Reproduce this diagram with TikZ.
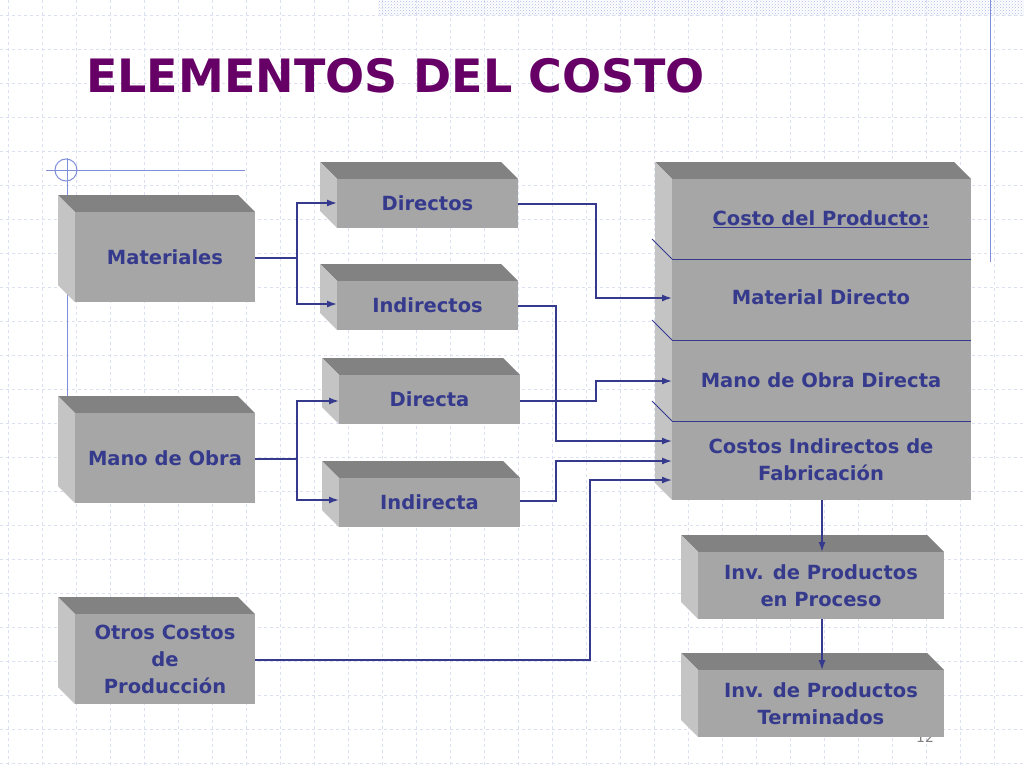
\documentclass[tikz,border=0pt]{standalone}
\usepackage{fontspec}
\setmainfont{DejaVu Sans}
\usetikzlibrary{arrows.meta,patterns}
\definecolor{navy}{HTML}{353A8C}
\definecolor{ttl}{HTML}{660066}
\definecolor{gridc}{HTML}{DCE1F2}
\definecolor{decor}{HTML}{7F8FDB}
\definecolor{frontc}{HTML}{A6A6A6}
\definecolor{topc}{HTML}{828282}
\definecolor{leftc}{HTML}{C4C4C4}
\newcommand{\cube}[7]{% name x0 y0 x1 y1 d text
  \fill[topc] (#2,#3) -- ({#4-#6},#3) -- (#4,{#3+#6}) -- ({#2+#6},{#3+#6}) -- cycle;
  \fill[leftc] (#2,#3) -- ({#2+#6},{#3+#6}) -- ({#2+#6},#5) -- (#2,{#5-#6}) -- cycle;
  \fill[frontc] ({#2+#6},{#3+#6}) rectangle (#4,#5);
  \node[lbl] (#1) at ({(#2+#6+#4)/2},{(#3+#6+#5)/2}) {#7};
  \coordinate (#1-nw) at ({#2+#6},{#3+#6});
}
\tikzset{lbl/.style={text=navy,font=\bfseries\fontsize{19.5}{27}\selectfont,align=center,inner sep=0pt},
 conn/.style={draw=navy,line width=1.4pt},
 arr/.style={conn,-{Latex[length=10pt,width=7pt]}}}
\begin{document}
\begin{tikzpicture}[x=1pt,y=-1pt]
\useasboundingbox (0,0) rectangle (1024,768);
\fill[white] (0,0) rectangle (1024,768);
\foreach \x in {8,42,...,1024} \draw[gridc,dashed,line width=0.6pt] (\x,0) -- (\x,768);
\foreach \y in {15,49,...,768} \draw[gridc,dashed,line width=0.6pt] (0,\y) -- (1024,\y);
\fill[pattern=crosshatch dots,pattern color=decor!60] (378,0) rectangle (1024,16);
\draw[decor,line width=1pt] (990,0) -- (990,262);
\draw[decor,line width=1pt] (46,170) -- (245,170);
\draw[decor,line width=1pt] (66,170) circle (11);
\draw[decor,line width=1pt] (67,158) -- (67,400);
\node[anchor=west,text=ttl,font=\bfseries\fontsize{46}{50}\selectfont,inner sep=0pt] (title) at (86,76) {ELEMENTOS DEL COSTO};
\node[text=gray,font=\fontsize{14}{16}\selectfont] (pg) at (925,737) {12};
\cube{mat}{58}{195}{255}{302}{17}{Materiales}
\cube{mo}{58}{396}{255}{503}{17}{Mano de Obra}
\cube{ot}{58}{597}{255}{704}{17}{Otros Costos\\de\\Producción}
\cube{dir}{320}{162}{518}{228}{17}{Directos}
\cube{ind}{320}{264}{518}{330}{17}{Indirectos}
\cube{dta}{322}{358}{520}{424}{17}{Directa}
\cube{ita}{322}{461}{520}{527}{17}{Indirecta}
\cube{big}{655}{162}{971}{500}{17}{}
\cube{ipp}{681}{535}{944}{619}{17}{Inv. de Productos\\en Proceso}
\cube{ipt}{681}{653}{944}{737}{17}{Inv. de Productos\\Terminados}
\foreach \y in {259,340,421}{
 \draw[navy,line width=0.9pt] (672,\y) -- (971,\y);
 \draw[navy,line width=0.8pt] (652,{\y-20}) -- (672,\y);}
\node[lbl] (cp) at (821,219) {\underline{Costo del Producto:}};
\node[lbl] (md) at (821,297) {Material Directo};
\node[lbl] (mod) at (821,380) {Mano de Obra Directa};
\node[lbl] (cif) at (821,460) {Costos Indirectos de\\Fabricación};
% connectors
\coordinate (mE) at (255,258); \coordinate (moE) at (255,459); \coordinate (otE) at (255,660);
\draw[arr] (mE) -- (297,258) |- (dir-nw |- 0,203);
\draw[arr] (297,258) |- (ind-nw |- 0,304);
\draw[arr] (moE) -- (297,459) |- (dta-nw |- 0,401);
\draw[arr] (297,459) |- (ita-nw |- 0,500);
\draw[arr] (518,204) -| (596,250) |- (672,298);
\draw[arr] (518,306) -| (556,380) |- (672,441);
\draw[arr] (520,401) -| (596,390) |- (672,381);
\draw[arr] (520,501) -| (556,480) |- (672,461);
\draw[arr] (otE) -| (590,560) |- (672,480);
\draw[arr] (822,500) -- (ipp-nw -| 822,0);
\draw[arr] (822,619) -- (ipt-nw -| 822,0);
\end{tikzpicture}
\end{document}
